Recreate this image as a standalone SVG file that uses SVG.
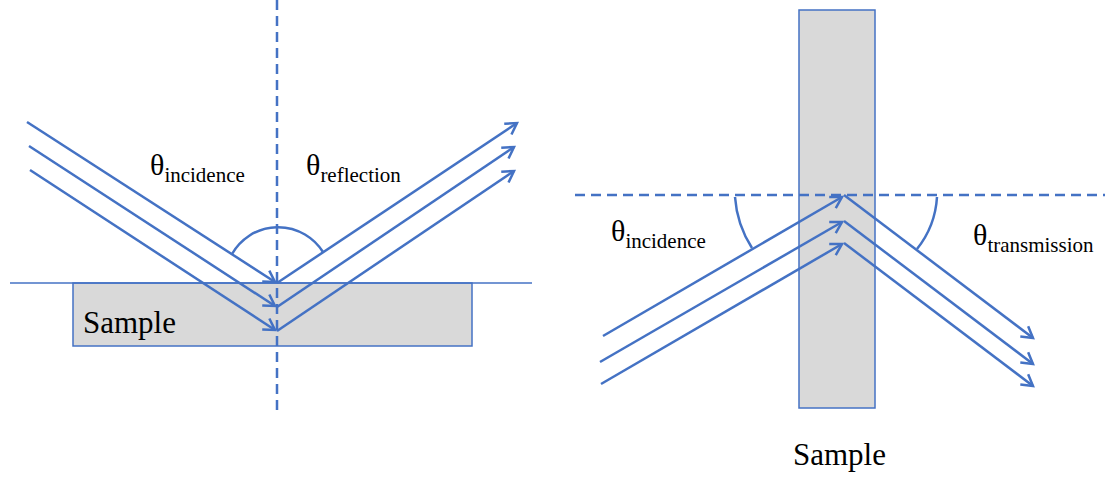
<svg xmlns="http://www.w3.org/2000/svg" width="1105" height="477" viewBox="0 0 1105 477">
<style>
.ray{fill:none;stroke:#4472C4;stroke-width:2.5;marker-end:url(#arr)}
.arc{fill:none;stroke:#4472C4;stroke-width:2.5}
.dash{fill:none;stroke:#4472C4;stroke-width:2.5;stroke-dasharray:10 6}
.thin{fill:none;stroke:#4472C4;stroke-width:1.5}
.sample{fill:#D9D9D9;stroke:#4472C4;stroke-width:1.5}
.t{font-family:"Liberation Serif","Times New Roman",serif;fill:#000}
.th{font-size:30px}
.sub{font-size:21px}
.big{font-size:31px}
</style>
<defs>
<marker id="arr" markerUnits="userSpaceOnUse" markerWidth="20" markerHeight="20" viewBox="-12 -10 14 20" refX="0" refY="0" orient="auto">
<path d="M-11,-6.5 L0,0 L-11,6.5" fill="none" stroke="#4472C4" stroke-width="2.5"/>
</marker>
</defs>
<g id="left-sample">
<rect class="sample" x="73" y="283" width="399" height="63"/>
<text class="t big" x="83" y="333">Sample</text>
</g>
<g id="right-sample">
<rect class="sample" x="799" y="10" width="76" height="398"/>
<text class="t big" x="793" y="465">Sample</text>
</g>
<g id="guides">
<line class="thin" x1="10" y1="283" x2="532" y2="283"/>
<line class="dash" x1="277" y1="0" x2="277" y2="416"/>
<line class="dash" x1="575" y1="195" x2="1105" y2="195"/>
</g>
<g id="connectors">
<line class="ray" x1="27" y1="122" x2="275" y2="282"/>
<line class="ray" x1="29" y1="146" x2="275" y2="306"/>
<line class="ray" x1="30" y1="170" x2="275" y2="330"/>
<line class="ray" x1="277" y1="283" x2="517" y2="123"/>
<line class="ray" x1="277" y1="307" x2="514" y2="147"/>
<line class="ray" x1="277" y1="331" x2="514" y2="171"/>
<line class="ray" x1="603" y1="336" x2="842" y2="197"/>
<line class="ray" x1="600" y1="362" x2="842" y2="222"/>
<line class="ray" x1="601" y1="384" x2="842" y2="244"/>
<line class="ray" x1="844" y1="195" x2="1033" y2="338"/>
<line class="ray" x1="844" y1="221" x2="1033" y2="364"/>
<line class="ray" x1="844" y1="243" x2="1033" y2="386"/>
</g>
<g id="angles">
<path class="arc" d="M232,254 A53,53 0 0 1 323,252"/>
<path class="arc" d="M735,197 A108,108 0 0 0 752,248"/>
<path class="arc" d="M937,197 A92,92 0 0 1 917,249"/>
</g>
<g id="labels">
<text class="t" x="150" y="175"><tspan class="th">θ</tspan><tspan class="sub" dy="7">incidence</tspan></text>
<text class="t" x="306" y="175"><tspan class="th">θ</tspan><tspan class="sub" dy="7">reflection</tspan></text>
<text class="t" x="611" y="241"><tspan class="th">θ</tspan><tspan class="sub" dy="7">incidence</tspan></text>
<text class="t" x="973" y="245"><tspan class="th">θ</tspan><tspan class="sub" dy="7">transmission</tspan></text>
</g>
</svg>
